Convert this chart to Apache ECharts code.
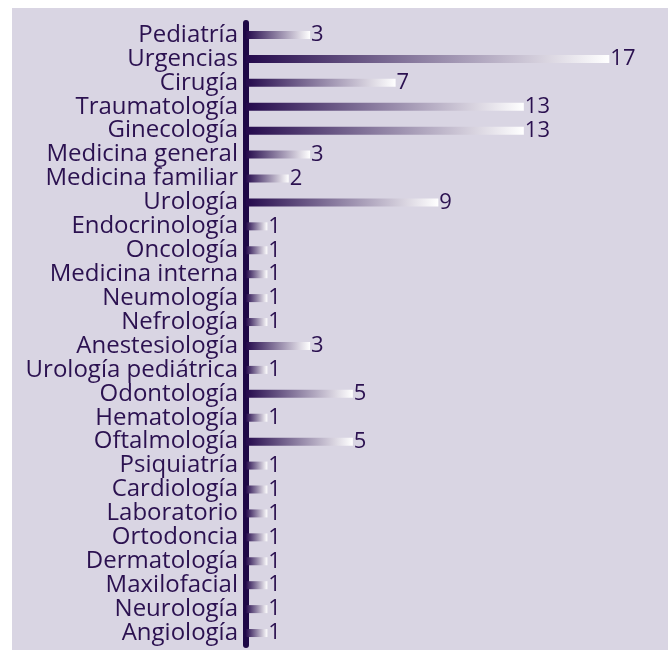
<!DOCTYPE html>
<html><head><meta charset="utf-8">
<script src="https://cdn.jsdelivr.net/npm/echarts@6/dist/echarts.min.js"></script>
<style>html,body{margin:0;padding:0;background:#fff;}#c{width:670px;height:658px;}</style>
</head><body><div id="c"></div>
<script>
const categories = ["Pediatría","Urgencias","Cirugía","Traumatología","Ginecología","Medicina general","Medicina familiar","Urología","Endocrinología","Oncología","Medicina interna","Neumología","Nefrología","Anestesiología","Urología pediátrica","Odontología","Hematología","Oftalmología","Psiquiatría","Cardiología","Laboratorio","Ortodoncia","Dermatología","Maxilofacial","Neurología","Angiología"];
const values = [3,17,7,13,13,3,2,9,1,1,1,1,1,3,1,5,1,5,1,1,1,1,1,1,1,1];

const chart = echarts.init(document.getElementById('c'), null, {renderer:'canvas'});
const txt = '#2b1150';
chart.setOption({
  backgroundColor: '#ffffff',
  animation: false,
  graphic: [{type:'rect', shape:{x:12,y:8,width:656,height:642}, style:{fill:'#d9d5e3'}, z:-10}],
  grid: {left: 246, top: 23, width: 374, height: 622, containLabel: false},
  xAxis: {type:'value', min:0, max:17.5, show:false},
  yAxis: {type:'category', data: categories, inverse:true,
    axisLine:{show:true, lineStyle:{color:'#1e0846', width:6}},
    axisTick:{show:false},
    axisLabel:{interval:0, color:txt, fontSize:24, fontFamily:'Open Sans', margin:8, lineHeight:24}
  },
  series: [{
    type:'bar', data: values, barWidth: 8,
    itemStyle:{color: new echarts.graphic.LinearGradient(0,0,1,0,[{offset:0,color:'#24094c'},{offset:1,color:'#ffffff'}])},
    label:{show:true, position:'right', distance:1, color:txt, fontSize:22, fontFamily:'Open Sans'}
  }]
});
</script></body></html>
